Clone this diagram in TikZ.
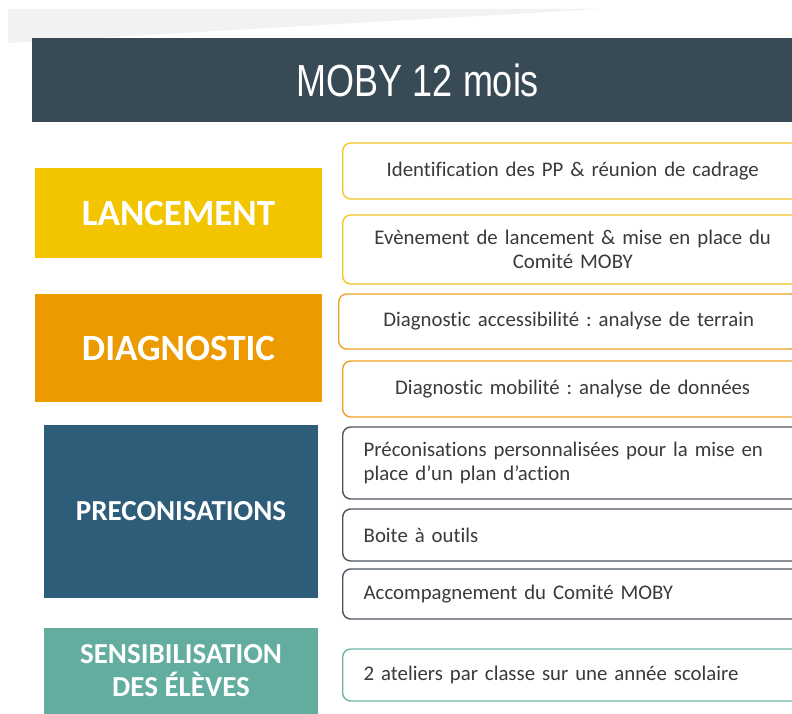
\documentclass[tikz,border=0pt]{standalone}
\usepackage{fontspec}
\setmainfont{Carlito}[Ligatures=NoCommon]
\newfontfamily\titlefont{Liberation Sans}
\definecolor{barcol}{HTML}{384A56}
\definecolor{lanccol}{HTML}{F2C500}
\definecolor{diagcol}{HTML}{EC9A00}
\definecolor{preccol}{HTML}{2E5D7A}
\definecolor{senscol}{HTML}{62AD9F}
\definecolor{lancline}{HTML}{F3C623}
\definecolor{diagline}{HTML}{EFA12A}
\definecolor{precline}{HTML}{4A5560}
\definecolor{sensline}{HTML}{6BB5A7}
\definecolor{tasktext}{HTML}{3A3A3A}
\frenchspacing
\begin{document}
\begin{tikzpicture}[x=1pt,y=-1pt,
    phase/.style={inner sep=0pt,text=white,align=center,font=\bfseries},
    task/.style={draw,line width=1.4pt,rounded corners=8pt,fill=white,anchor=west,
        minimum width=460pt,text width=420pt,inner xsep=20pt,align=center,
        text=tasktext,font=\fontsize{20.8}{24}\selectfont},
    taskl/.style={task,inner xsep=21pt,align=left}]

            \useasboundingbox (0,0) rectangle (792,714);
            \clip (0,0) rectangle (792,714);

            % light wedge and title bar
            \fill[gray!10] (8,9) -- (600,9) -- (8,43) -- cycle;
            \node[fill=barcol,minimum width=780pt,minimum height=84pt,anchor=north west,inner sep=0pt] (title) at (32,38) {};
            \node[text=white] (titletext) at (418,80) {\titlefont\fontsize{45}{45}\selectfont\scalebox{0.8}[1]{MOBY 12 mois}};

            % phases
            \node[phase,fill=lanccol,minimum width=287pt,minimum height=90pt,font=\fontsize{37}{40}\selectfont\bfseries] (lanc) at (178.5,213) {LANCEMENT};
            \node[phase,fill=diagcol,minimum width=287pt,minimum height=108pt,font=\fontsize{37}{40}\selectfont\bfseries] (diag) at (178.5,348) {DIAGNOSTIC};
            \node[phase,fill=preccol,minimum width=274pt,minimum height=173pt,font=\fontsize{29}{33}\selectfont\bfseries] (prec) at (181,511.5) {PRECONISATIONS};
            \node[phase,fill=senscol,minimum width=274pt,minimum height=86pt,font=\fontsize{29}{33}\selectfont\bfseries] (sens) at (181,671) {SENSIBILISATION\\DES ÉLÈVES};

            % tasks
            \node[task,draw=lancline,minimum height=56pt] (t1) at (342,171) {Identification des PP \& réunion de cadrage};
            \node[task,draw=lancline,minimum height=69pt] (t2) at (342,249.5) {Evènement de lancement \& mise en place du\\Comité MOBY};
            \node[task,draw=diagline,minimum height=55pt] (t3) at (338,321.5) {Diagnostic accessibilité : analyse de terrain};
            \node[task,draw=diagline,minimum height=56pt] (t4) at (342,389) {Diagnostic mobilité : analyse de données};
            \node[taskl,draw=precline,minimum height=72pt] (t5) at (342,463) {Préconisations personnalisées pour la mise en\\place d’un plan d’action};
            \node[taskl,draw=precline,minimum height=52pt] (t6) at (342,535) {Boite à outils};
            \node[taskl,draw=precline,minimum height=50pt] (t7) at (342,594) {Accompagnement du Comité MOBY};
            \node[taskl,draw=sensline,minimum height=52pt] (t8) at (342,675) {2 ateliers par classe sur une année scolaire};
        \end{tikzpicture}
\end{document}
